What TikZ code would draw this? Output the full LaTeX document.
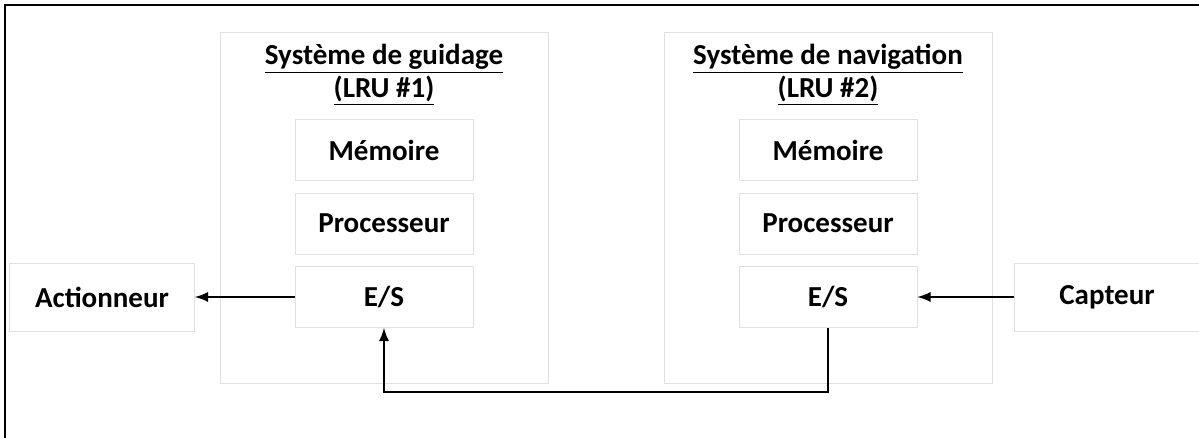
\documentclass[tikz,border=0pt]{standalone}
\usepackage{fontspec}
\setmainfont{Carlito}
\usepackage{tikz}
\usetikzlibrary{shapes,arrows}
\tikzstyle{container} = [rectangle, draw=black!12, fill=white, minimum width=6.56cm, minimum height=7.02cm]
\tikzstyle{block} = [rectangle, draw=black!12, fill=white, text centered, minimum width=3.56cm, minimum height=1.22cm, font=\fontsize{16.5}{19}\selectfont\bfseries]
\tikzstyle{outer} = [rectangle, draw=black!12, fill=white, text centered, minimum width=3.7cm, minimum height=1.36cm, font=\fontsize{16.5}{19}\selectfont\bfseries]
\tikzstyle{title} = [align=center, font=\fontsize{16.5}{18.5}\selectfont\bfseries]
\tikzstyle{line} = [draw, line width=1.6pt, -latex]

\begin{document}
\begin{tikzpicture}[node distance = 1.47cm, auto]
    \useasboundingbox (0,0) rectangle (23.98,-8.76);
    \draw [line width=1.2pt] (0.1,-9.2) -- (0.1,-0.1) -- (24.3,-0.1);
    % Place nodes
    \node [container] (lru1) at (7.68,-4.15) {};
    \node [container] (lru2) at (16.56,-4.15) {};
    \node [title] (title1) at (7.68,-1.5) {\underline{Système de guidage}\\\underline{(LRU \#1)}};
    \node [title] (title2) at (16.56,-1.5) {\underline{Système de navigation}\\\underline{(LRU \#2)}};
    \node [block] (mem1) at (7.68,-3.0) {Mémoire};
    \node [block, below of=mem1] (proc1) {Processeur};
    \node [block, below of=proc1] (es1) {E/S};
    \node [block] (mem2) at (16.56,-3.0) {Mémoire};
    \node [block, below of=mem2] (proc2) {Processeur};
    \node [block, below of=proc2] (es2) {E/S};
    \node [outer, left of=es1, node distance=5.64cm] (act) {Actionneur};
    \node [outer, right of=es2, node distance=5.58cm] (capt) {Capteur};
    % Draw edges
    \path [line] (es1) -- (act);
    \path [line] (capt) -- (es2);
    \path [line] (es2) -- ++(0,-1.9) -| (es1);
\end{tikzpicture}
\end{document}
